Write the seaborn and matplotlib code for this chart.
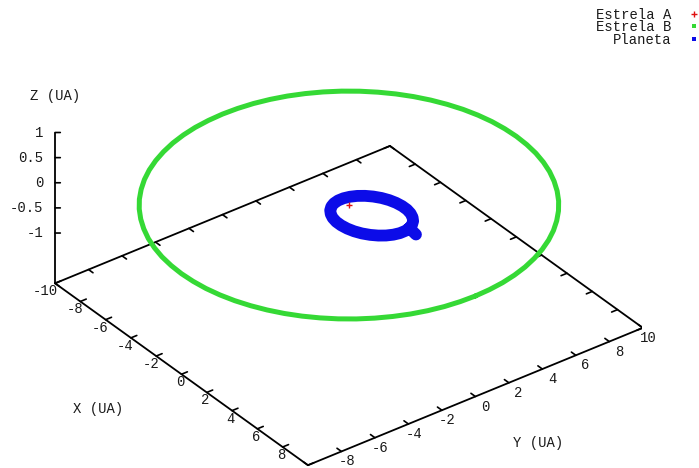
import matplotlib
matplotlib.use("Agg")
import matplotlib.pyplot as plt
from matplotlib.lines import Line2D
from mpl_toolkits.mplot3d import proj3d
import seaborn as sns

# ---------------------------------------------------------------- data (UA)
# Estrela A: practically at rest at the origin
estrela_a_x = [0.0]
estrela_a_y = [0.0]
estrela_a_z = [0.0]

# Estrela B: wide circular orbit in the z = 0 plane
estrela_b_x = [10.00, 9.96, 9.85, 9.66, 9.40, 9.06, 8.66, 8.19, 7.66, 7.07,
               6.43, 5.74, 5.00, 4.23, 3.42, 2.59, 1.74, 0.87, 0.00,
               -0.87, -1.74, -2.59, -3.42, -4.23, -5.00, -5.74, -6.43, -7.07,
               -7.66, -8.19, -8.66, -9.06, -9.40, -9.66, -9.85, -9.96, -10.00,
               -9.96, -9.85, -9.66, -9.40, -9.06, -8.66, -8.19, -7.66, -7.07,
               -6.43, -5.74, -5.00, -4.23, -3.42, -2.59, -1.74, -0.87, 0.00,
               0.87, 1.74, 2.59, 3.42, 4.23, 5.00, 5.74, 6.43, 7.07,
               7.66, 8.19, 8.66, 9.06, 9.40, 9.66, 9.85, 9.96, 10.00]
estrela_b_y = [0.00, 0.87, 1.74, 2.59, 3.42, 4.23, 5.00, 5.74, 6.43, 7.07,
               7.66, 8.19, 8.66, 9.06, 9.40, 9.66, 9.85, 9.96, 10.00,
               9.96, 9.85, 9.66, 9.40, 9.06, 8.66, 8.19, 7.66, 7.07,
               6.43, 5.74, 5.00, 4.23, 3.42, 2.59, 1.74, 0.87, 0.00,
               -0.87, -1.74, -2.59, -3.42, -4.23, -5.00, -5.74, -6.43, -7.07,
               -7.66, -8.19, -8.66, -9.06, -9.40, -9.66, -9.85, -9.96, -10.00,
               -9.96, -9.85, -9.66, -9.40, -9.06, -8.66, -8.19, -7.66, -7.07,
               -6.43, -5.74, -5.00, -4.23, -3.42, -2.59, -1.74, -0.87, 0.00]
estrela_b_z = 0.0

# Planeta: eccentric orbit around Estrela A (starts at the short tail)
planeta_x = [3.99, 3.35, 3.20, 2.97, 2.69, 2.36, 1.99, 1.60, 1.20, 0.81, 0.44,
             0.10, -0.18, -0.40, -0.55, -0.63, -0.63, -0.55, -0.40, -0.17, 0.11,
             0.44, 0.81, 1.20, 1.60, 1.99, 2.36, 2.70, 2.98, 3.20, 3.35,
             3.43, 3.43, 3.35]
planeta_y = [0.99, 1.08, 1.35, 1.59, 1.77, 1.90, 1.97, 1.97, 1.91, 1.79, 1.61,
             1.37, 1.10, 0.80, 0.48, 0.15, -0.17, -0.48, -0.75, -0.99, -1.17,
             -1.30, -1.37, -1.37, -1.31, -1.19, -1.01, -0.77, -0.50, -0.20, 0.12,
             0.45, 0.77, 1.08]
planeta_z = 0.0

# axes ranges and ticks
x_range = (-10, 10)
y_range = (-10, 10)
z_range = (-2, 1)
x_ticks = [-10, -8, -6, -4, -2, 0, 2, 4, 6, 8, 10]
y_ticks = [-10, -8, -6, -4, -2, 0, 2, 4, 6, 8, 10]
z_ticks = [-1, -0.5, 0, 0.5, 1]
x_tick_labels = ["-10", "-8", "-6", "-4", "-2", "0", "2", "4", "6", "8"]
y_tick_labels = ["-8", "-6", "-4", "-2", "0", "2", "4", "6", "8", "10"]
z_tick_labels = ["-1", "-0.5", "0", "0.5", "1"]

# ---------------------------------------------------------------- style
sns.set_theme(style="white")
plt.rcParams["font.family"] = ["Liberation Mono", "DejaVu Sans Mono"]
FONT = 10
TXT = "#1a1a1a"

W, H = 699, 468
fig = plt.figure(figsize=(W / 100, H / 100), dpi=100)
fig.patch.set_facecolor("white")

side = 601.9
cx, cy = 340.8, 229.7
ax = fig.add_axes([(cx - side / 2) / W, (cy - side / 2) / H, side / W, side / H],
                  projection="3d")
ax.set_proj_type("ortho")
ax.view_init(elev=32.9, azim=-37.06)
ax.set_xlim(*x_range)
ax.set_ylim(*y_range)
ax.set_zlim(*z_range)
ax.set_box_aspect((1, 1, 0.428))
ax.set_axis_off()
ax.computed_zorder = False

xlo, xhi = x_range
ylo, yhi = y_range
zb, zt = z_range

# base rectangle and vertical z axis
frame = dict(color="black", lw=1.3, zorder=1)
ax.plot([xlo, xhi, xhi, xlo, xlo], [ylo, ylo, yhi, yhi, ylo], zs=zb, **frame)
ax.plot([xlo, xlo], [ylo, ylo], [zb, zt], **frame)

tick = dict(color="black", lw=1.2, zorder=1)
tl = 0.35
for xt in x_ticks:
    ax.plot([xt, xt], [ylo, ylo + tl], zs=zb, **tick)
    ax.plot([xt, xt], [yhi, yhi - tl], zs=zb, **tick)
for yt in y_ticks:
    ax.plot([xhi, xhi - tl], [yt, yt], zs=zb, **tick)
    ax.plot([xlo, xlo + tl], [yt, yt], zs=zb, **tick)
for zt_ in z_ticks:
    ax.plot([xlo, xlo + 0.15], [ylo, ylo + 0.2], [zt_, zt_], **tick)

# ---------------------------------------------------------------- orbits
GREEN = "#35d935"
BLUE = "#0c0ce8"
RED = "#e01010"
ax.plot(estrela_b_x, estrela_b_y, zs=estrela_b_z, color=GREEN, lw=3.6,
        solid_joinstyle="round", zorder=2)
ax.plot(planeta_x, planeta_y, zs=planeta_z, color=BLUE, lw=8.5,
        solid_joinstyle="round", solid_capstyle="round", zorder=3)
ax.plot(estrela_a_x, estrela_a_y, estrela_a_z, ls="none", marker="+", ms=4, mew=1,
        color=RED, zorder=4)

# ---------------------------------------------------------------- tick labels
fig.canvas.draw()
M = ax.get_proj()


def label_at(x, y, z, s, dx, dy, ha):
    px, py, _ = proj3d.proj_transform(x, y, z, M)
    ax.annotate(s, (px, py), xycoords="data", xytext=(dx, dy),
                textcoords="offset pixels", ha=ha, va="center",
                fontsize=FONT, color=TXT, annotation_clip=False)


for xt, lab in zip(x_ticks, x_tick_labels):
    label_at(xt, ylo, zb, lab, 3, -8, "right")
for yt, lab in zip(y_ticks[1:], y_tick_labels):
    label_at(xhi, yt, zb, lab, 14, -10, "right")
for zt_, lab in zip(z_ticks, z_tick_labels):
    label_at(xlo, ylo, zt_, lab, -12, 0, "right")

fig.text(55 / W, 1 - 96 / H, "Z (UA)", ha="center", va="center", fontsize=FONT, color=TXT)
fig.text(98 / W, 1 - 409 / H, "X (UA)", ha="center", va="center", fontsize=FONT, color=TXT)
fig.text(538 / W, 1 - 443 / H, "Y (UA)", ha="center", va="center", fontsize=FONT, color=TXT)

handles = [
    Line2D([], [], ls="none", marker="+", ms=4, mew=1, color=RED),
    Line2D([], [], ls="none", marker="s", ms=2.5, mew=0, color=GREEN),
    Line2D([], [], ls="none", marker="s", ms=2.5, mew=0, color=BLUE),
]
fig.legend(handles, ["Estrela A", "Estrela B", "Planeta"], loc="upper right",
           bbox_to_anchor=(700 / W, 1 - 8 / H), markerfirst=False, frameon=False,
           handlelength=0.8, handletextpad=1.25, labelspacing=-0.12, borderpad=0,
           borderaxespad=0, fontsize=FONT, labelcolor=TXT)

fig.savefig("out.png", dpi=100, facecolor="white")
